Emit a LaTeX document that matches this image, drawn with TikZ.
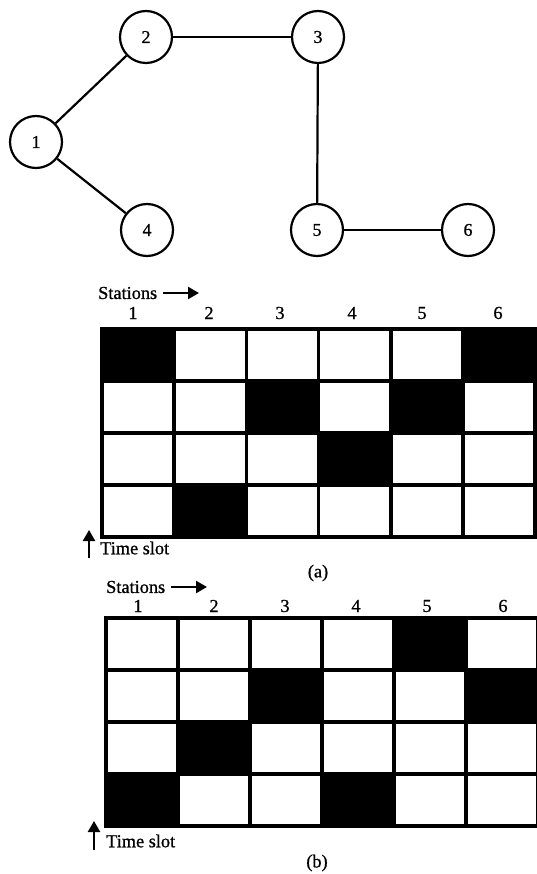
\documentclass[tikz,border=0pt]{standalone}
\usepackage{fontspec}
\setmainfont{Liberation Serif}
\newfontfamily\heavyserif[FakeBold=0.9]{Liberation Serif}
\usetikzlibrary{arrows.meta}
\begin{document}
\begin{tikzpicture}[x=1pt,y=-1pt,
 vertex/.style={circle,draw,line width=2.2pt,minimum size=52pt,inner sep=0pt,font=\heavyserif\fontsize{18}{18}\selectfont},
 edge/.style={line width=2.2pt},
 cell/.style={rectangle,draw,line width=3.4pt,minimum width=72pt,minimum height=52pt,inner sep=0pt},
 c0/.style={fill=white},
 c1/.style={fill=black},
 lbl/.style={font=\heavyserif\fontsize{18.3}{18.3}\selectfont,inner sep=0pt},
 arr/.style={line width=2.4pt,-{Triangle[length=11pt,width=12pt]}}]
\useasboundingbox (0,0) rectangle (537,874);
% graph
\node[vertex] (v1) at (36,142) {1};
\node[vertex] (v2) at (146,37) {2};
\node[vertex] (v3) at (318,37) {3};
\node[vertex] (v4) at (147,230) {4};
\node[vertex] (v5) at (317,230) {5};
\node[vertex] (v6) at (468,230) {6};
\draw[edge] (v1) -- (v2);
\draw[edge] (v2) -- (v3);
\draw[edge] (v3) -- (v5);
\draw[edge] (v1) -- (v4);
\draw[edge] (v5) -- (v6);
% grid (a)
\foreach \r/\row in {1/{1,0,0,0,0,1},2/{0,0,1,0,1,0},3/{0,0,0,1,0,0},4/{0,1,0,0,0,0}}{
  \foreach \v [count=\c] in \row {
    \node[cell,c\v] (a-\r-\c) at ({102+(\c-0.5)*72.2},{329+(\r-0.5)*52}) {};
  }
}
\node[lbl,anchor=west] (sta) at (98,293) {Stations};
\coordinate (sta-e) at (199,293);
\draw[arr] (163,293) -- (sta-e);
\foreach \x [count=\c] in {133,209,280,352,422,498}{
  \node[lbl] (ha-\c) at (\x,313) {\c};
}
\node[lbl,anchor=west] (tsa) at (100,548) {Time slot};
\coordinate (tsa-s) at (89,558);
\coordinate (tsa-e) at (89,530);
\draw[arr] (tsa-s) -- (tsa-e);
\node[lbl] (capa) at (318,573) {(a)};
% grid (b)
\foreach \r/\row in {1/{0,0,0,0,1,0},2/{0,0,1,0,0,1},3/{0,1,0,0,0,0},4/{1,0,0,1,0,0}}{
  \foreach \v [count=\c] in \row {
    \node[cell,c\v] (b-\r-\c) at ({106+(\c-0.5)*72},{618+(\r-0.5)*52}) {};
  }
}
\node[lbl,anchor=west] (stb) at (106,587) {Stations};
\coordinate (stb-e) at (207,587);
\draw[arr] (171,587) -- (stb-e);
\foreach \x [count=\c] in {138,214,285,356,427,503}{
  \node[lbl] (hb-\c) at (\x,606) {\c};
}
\node[lbl,anchor=west] (tsb) at (106,841) {Time slot};
\coordinate (tsb-s) at (94,850);
\coordinate (tsb-e) at (94,821);
\draw[arr] (tsb-s) -- (tsb-e);
\node[lbl] (capb) at (317,863) {(b)};
\end{tikzpicture}
\end{document}
